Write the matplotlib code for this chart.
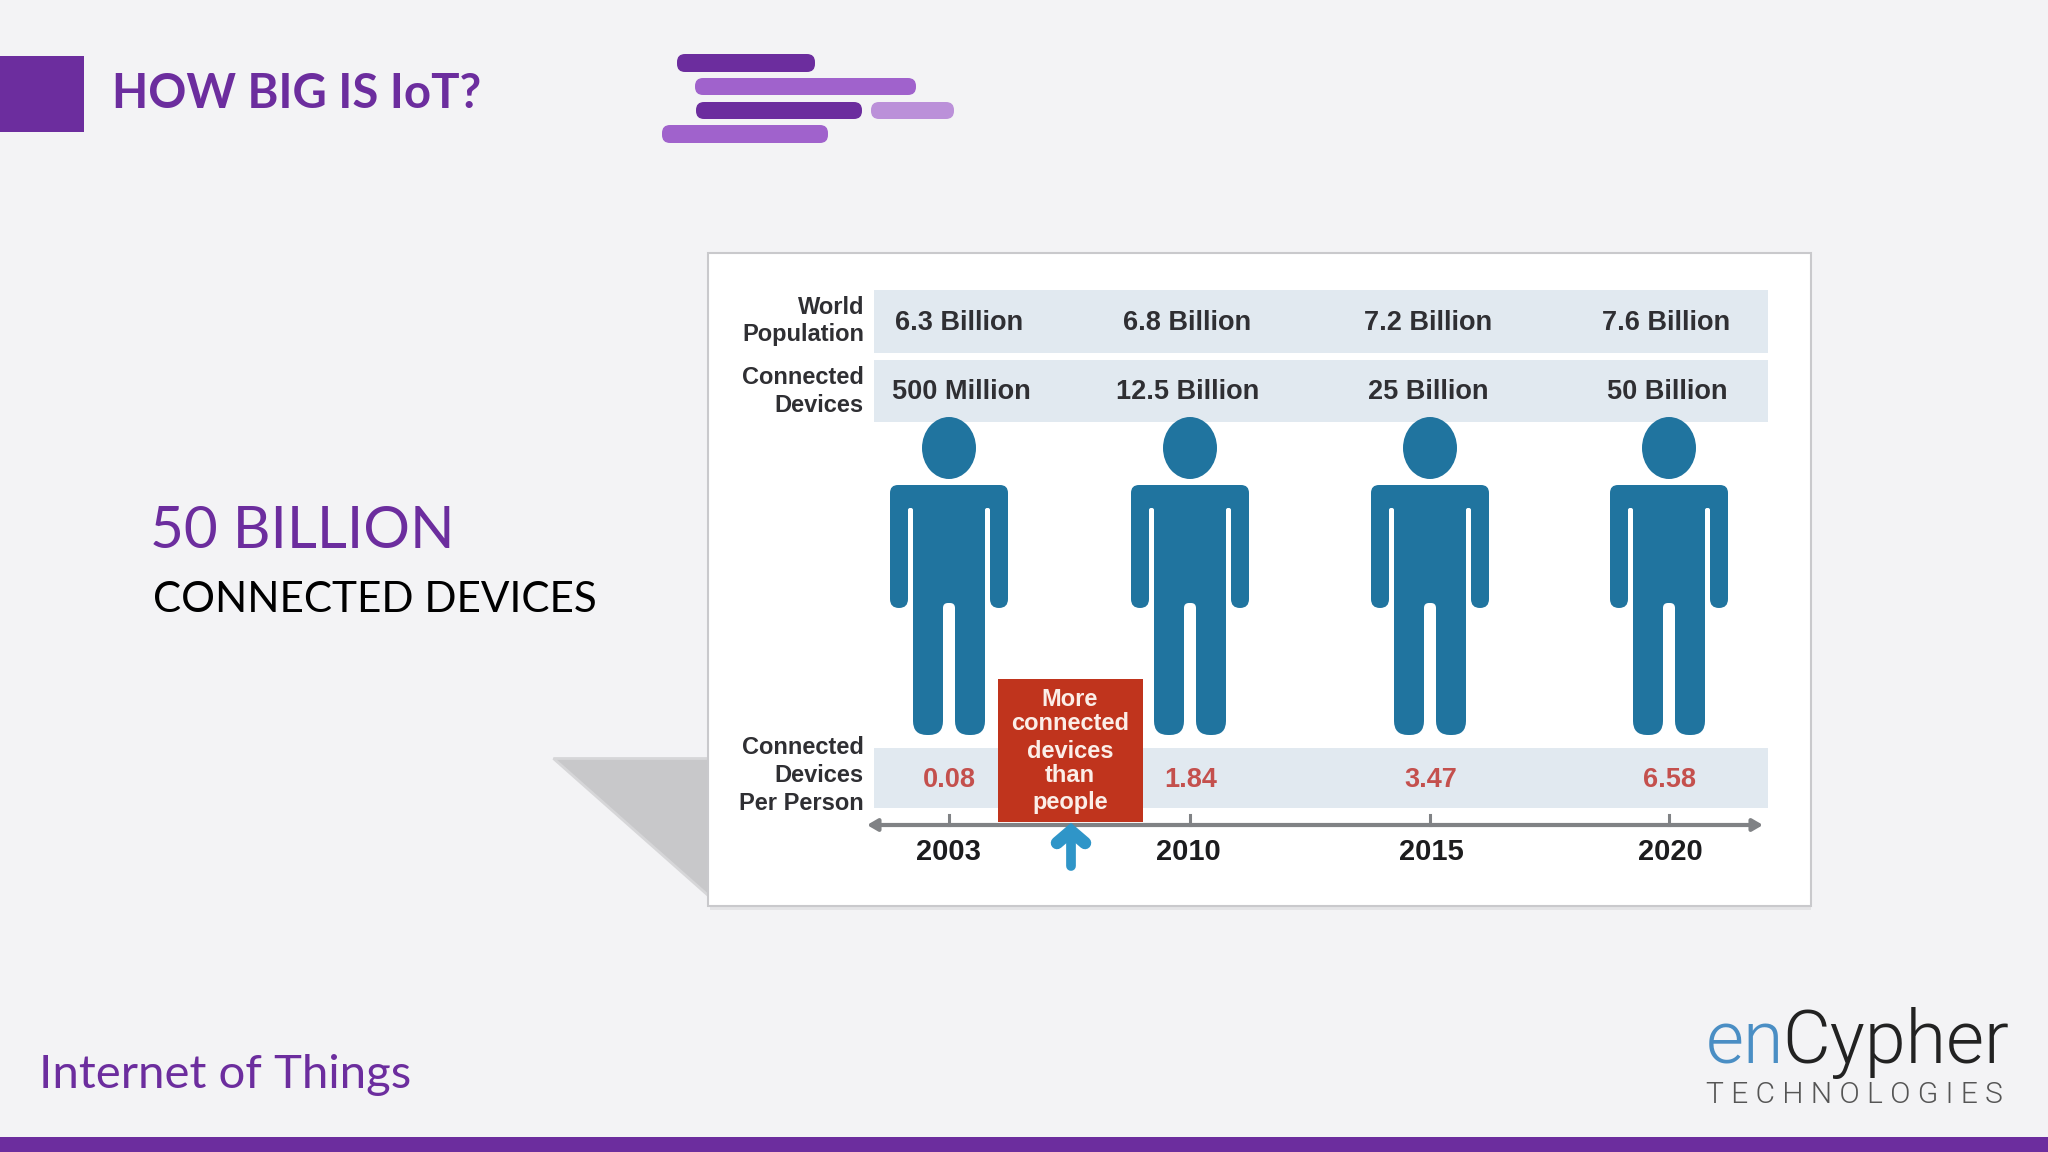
import matplotlib
matplotlib.use("Agg")
import matplotlib.pyplot as plt
from matplotlib.patches import Ellipse, FancyBboxPatch, Polygon, Rectangle

years = ["2003", "2010", "2015", "2020"]
world_population = ["6.3 Billion", "6.8 Billion", "7.2 Billion", "7.6 Billion"]
connected_devices = ["500 Million", "12.5 Billion", "25 Billion", "50 Billion"]
devices_per_person = ["0.08", "1.84", "3.47", "6.58"]
callout_lines = ["More", "connected", "devices", "than", "people"]

PURPLE = "#6c2d9e"
MID_PURPLE = "#a062cc"
LIGHT_PURPLE = "#bb90d9"
BAND = "#e1e9f0"
PERSON = "#20749f"
RED = "#c0341d"
AXIS_GRAY = "#808285"
LABEL = "#2f2f33"

# column centres in pixels
person_x = [949, 1190, 1430, 1669]
population_x = [959, 1187, 1428, 1666]
devices_x = [961, 1188, 1428, 1667]
ratio_x = [949, 1191, 1431, 1669]
year_x = [948, 1188, 1431, 1670]


def rbox(ax, x0, y0, x1, y1, r, color, z=3):
    ax.add_patch(FancyBboxPatch((x0 + r, y0 + r), x1 - x0 - 2 * r, y1 - y0 - 2 * r,
                                boxstyle=f"round,pad={r},rounding_size={r}",
                                fc=color, ec="none", zorder=z))


def draw_person(ax, cx):
    ax.add_patch(Ellipse((cx, 448), 54, 62, fc=PERSON, ec="none", zorder=3))
    rbox(ax, cx - 59, 485, cx + 59, 530, 8, PERSON)
    rbox(ax, cx - 59, 490, cx - 41, 608, 9, PERSON)
    rbox(ax, cx + 41, 490, cx + 59, 608, 9, PERSON)
    ax.add_patch(Rectangle((cx - 36, 500), 72, 110, fc=PERSON, ec="none", zorder=3))
    # slits between arms and torso
    rbox(ax, cx - 41, 508, cx - 36, 610, 2, "white", z=3)
    rbox(ax, cx + 36, 508, cx + 41, 610, 2, "white", z=3)
    rbox(ax, cx - 36, 590, cx - 6, 735, 14, PERSON)
    rbox(ax, cx + 6, 590, cx + 36, 735, 14, PERSON)
    # notch between the legs
    rbox(ax, cx - 6, 603, cx + 6, 640, 5, "white", z=3)


def main():
    fig = plt.figure(figsize=(20.48, 11.52), dpi=100, facecolor="#f3f3f5")
    ax = fig.add_axes([0, 0, 1, 1])
    ax.set_xlim(0, 2048)
    ax.set_ylim(1152, 0)
    ax.axis("off")

    # slide furniture
    ax.add_patch(Rectangle((0, 56), 84, 76, fc=PURPLE, ec="none"))
    ax.add_patch(Rectangle((0, 1137), 2048, 15, fc=PURPLE, ec="none"))
    rbox(ax, 677, 54, 815, 72, 8, PURPLE)
    rbox(ax, 695, 78, 916, 95, 8, MID_PURPLE)
    rbox(ax, 696, 102, 862, 119, 8, PURPLE)
    rbox(ax, 871, 102, 954, 119, 8, LIGHT_PURPLE)
    rbox(ax, 662, 125, 828, 143, 8, MID_PURPLE)

    ax.text(112, 94, "HOW BIG IS IoT?", family="Lato", weight="bold",
            fontsize=34, color=PURPLE, va="center", ha="left")
    ax.text(150, 531, "50 BILLION", family="Lato", fontsize=42, color=PURPLE, va="center")
    ax.text(153, 600, "CONNECTED DEVICES", family="Lato", fontsize=30.4, color="black", va="center")
    ax.text(39, 1075, "Internet of Things", family="Lato", fontsize=34, color=PURPLE, va="center")

    # logo
    ax.text(1706, 1063, "en", family="Roboto", weight=300, fontsize=53, color="#4a8ec4", va="baseline")
    ax.text(1782, 1063, "Cypher", family="Roboto", weight=300, fontsize=53, color="#222222", va="baseline")
    ax.text(1706, 1095, "T E C H N O L O G I E S", family="Roboto", weight=300, fontsize=21.6,
            color="#555555", va="center")

    # shadow and panel
    ax.add_patch(Polygon([(553, 758), (710, 758), (710, 897)], closed=True, fc="#c8c8ca",
                         ec="#d6d6d8", lw=2, zorder=1))
    ax.add_patch(Rectangle((710, 906), 1101, 4, fc="#e4e4e6", ec="none", zorder=1))
    ax.add_patch(Rectangle((708, 253), 1103, 653, fc="white", ec="#c9c9cc", lw=1.5, zorder=2))

    for y0, y1 in [(290, 353), (360, 422), (748, 808)]:
        ax.add_patch(Rectangle((874, y0), 894, y1 - y0, fc=BAND, ec="none", zorder=2))

    row_labels = [("World", 308), ("Population", 335), ("Connected", 378), ("Devices", 406),
                  ("Connected", 747), ("Devices", 775), ("Per Person", 803)]
    for label, y in row_labels:
        ax.text(864, y, label, family="Liberation Sans", weight="bold", fontsize=17,
                color=LABEL, ha="right", va="center", zorder=4)

    for x, label in zip(population_x, world_population):
        ax.text(x, 323, label, family="Liberation Sans", weight="bold", fontsize=19.5,
                color=LABEL, ha="center", va="center", zorder=4)
    for x, label in zip(devices_x, connected_devices):
        ax.text(x, 392, label, family="Liberation Sans", weight="bold", fontsize=19.5,
                color=LABEL, ha="center", va="center", zorder=4)

    for x in person_x:
        draw_person(ax, x)

    for x, label in zip(ratio_x, devices_per_person):
        ax.text(x, 780, label, family="Liberation Sans", weight="bold", fontsize=19.5,
                color="#c4504d", ha="center", va="center", zorder=4)

    # timeline
    ax.annotate("", xy=(867, 825), xytext=(1763, 825), zorder=3,
                arrowprops=dict(arrowstyle="<|-|>,head_width=0.35,head_length=0.6", color=AXIS_GRAY,
                                lw=3, shrinkA=0, shrinkB=0))
    for x in person_x:
        ax.plot([x, x], [815, 825], color=AXIS_GRAY, lw=2.2, zorder=3)
    for x, label in zip(year_x, years):
        ax.text(x, 852, label, family="Liberation Sans", weight="bold", fontsize=21,
                color="#1c1c1e", ha="center", va="center", zorder=4)

    # callout
    ax.add_patch(Rectangle((998, 679), 145, 143, fc=RED, ec="none", zorder=4))
    for y, line in zip([699, 724, 751, 776, 803], callout_lines):
        ax.text(1070, y, line, family="Liberation Sans", weight="bold", fontsize=17,
                color="#fbeee8", ha="center", va="center", zorder=5)
    ax.plot([1071, 1071], [832, 866], color="#2f95c8", lw=7, solid_capstyle="round", zorder=4)
    ax.plot([1057, 1071, 1085], [843, 831, 843], color="#2f95c8", lw=9,
            solid_capstyle="round", solid_joinstyle="miter", zorder=4)

    fig.savefig("out.png", dpi=100, facecolor=fig.get_facecolor())


if __name__ == "__main__":
    main()
